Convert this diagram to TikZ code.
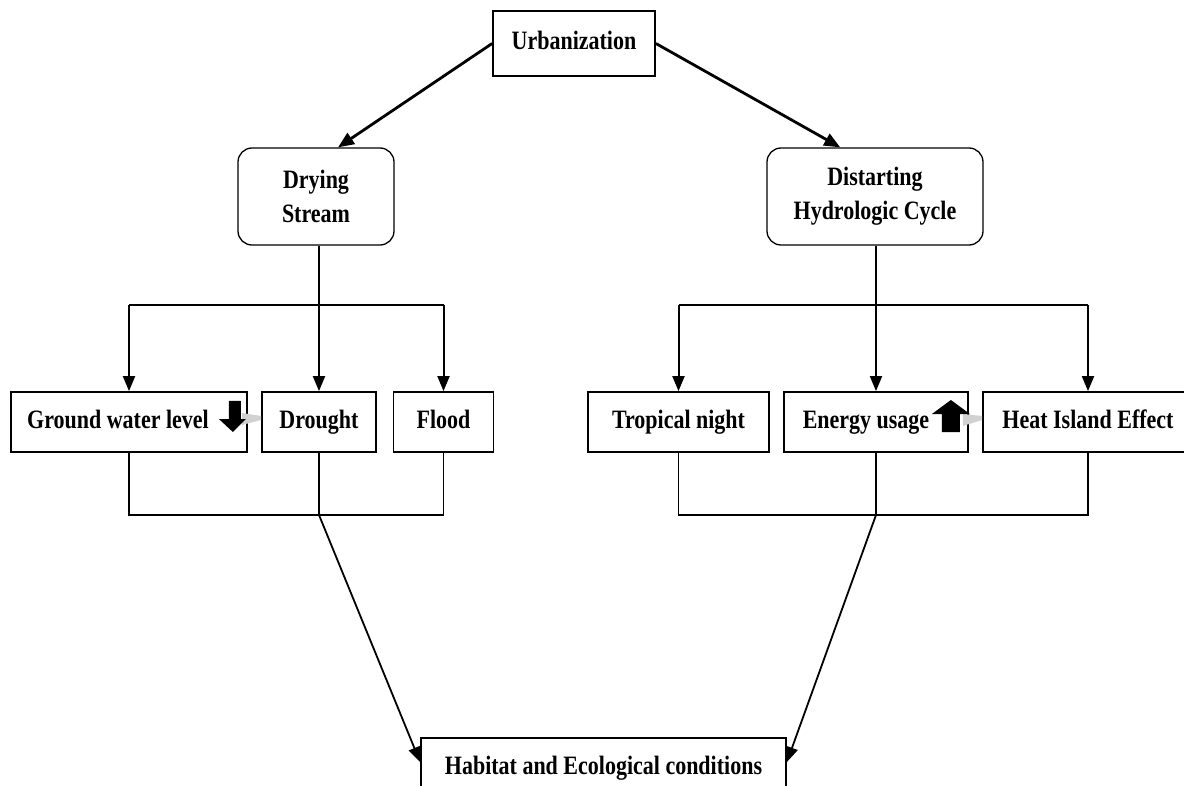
\documentclass[tikz,border=0pt]{standalone}
\usepackage{fontspec}
\setmainfont{Liberation Serif}[FakeStretch=0.83]
\usetikzlibrary{arrows.meta,calc}
\begin{document}
\begin{tikzpicture}[x=1pt,y=-1pt,
  every node/.style={font=\fontsize{26.5}{34}\selectfont\bfseries},
  box/.style={draw,line width=1.8pt,minimum height=60pt,inner sep=0pt,text height=19pt,text depth=6pt},
  rbox/.style={draw,line width=1.3pt,rounded corners=14pt,align=center,inner sep=0pt,minimum height=97pt},
  arr/.style={line width=2pt,-{Triangle[length=15pt,width=12pt]}},
  bigarr/.style={line width=2.8pt,-{Triangle[length=16pt,width=13pt]}},
  feed/.style={line width=1.8pt},
  thin/.style={line width=1.2pt},
  conv/.style={line width=1.8pt,-{Triangle[length=15pt,width=12pt]}},
  blk/.style={fill=black},
  shadow/.style={fill=black!18}
]
\useasboundingbox (0,0) rectangle (1184,786);
\fill[white] (0,0) rectangle (1184,786);

\node[box,minimum width=162pt,minimum height=65pt] (urb) at (574,43.5) {Urbanization};
\node[rbox,minimum width=156pt] (ds) at (316,196.5) {Drying\\Stream};
\node[rbox,minimum width=216pt] (dh) at (875,196.5) {Distarting\\Hydrologic Cycle};

\node[box,minimum width=236pt] (gw) at (129,422) {Ground water level\hspace*{22pt}};
\node[box,minimum width=114pt] (dr) at (319,422) {Drought};
\node[box,minimum width=100pt] (fl) at (443.5,422) {Flood};

\node[box,minimum width=181pt] (tn) at (678.5,422) {Tropical night};
\node[box,minimum width=184pt] (eu) at (876,422) {Energy usage\hspace*{20pt}};
\node[box,minimum width=210pt] (hi) at (1088,422) {Heat Island Effect};

\node[box,minimum width=365pt,minimum height=70pt,anchor=north] (hab) at (603.5,737) {\raisebox{5pt}{Habitat and Ecological conditions}};

% urbanization arrows
\draw[bigarr] (urb.west) -- ($(ds.north west)!0.64!(ds.north east)$);
\draw[bigarr] (urb.east) -- ($(dh.north west)!0.34!(dh.north east)$);

% left branch
\coordinate (lj) at (dr.north |- 0,305);
\draw[arr] (dr.north |- ds.south) -- (dr.north);
\draw[feed] (gw.north |- lj) -- (fl.north |- lj);
\draw[arr] (gw.north |- lj) -- (gw.north);
\draw[arr] (fl.north |- lj) -- (fl.north);

% right branch
\coordinate (rj) at (eu.north |- 0,305);
\draw[arr] (eu.north |- dh.south) -- (eu.north);
\draw[feed] (tn.north |- rj) -- (hi.north |- rj);
\draw[arr] (tn.north |- rj) -- (tn.north);
\draw[arr] (hi.north |- rj) -- (hi.north);

% bottom collectors
\coordinate (lb) at (dr.south |- 0,515);
\draw[thin] (gw.south) -- (gw.south |- lb) -- (fl.south |- lb) -- (fl.south);
\draw[thin] (dr.south) -- (lb);
\coordinate (rb) at (eu.south |- 0,515);
\draw[thin] (tn.south) -- (tn.south |- rb) -- (hi.south |- rb) -- (hi.south);
\draw[thin] (eu.south) -- (rb);

\draw[conv] (lb) -- ($(hab.north west)+(0,25)$);
\draw[conv] (rb) -- ($(hab.north east)+(0,25)$);

% block arrows inside boxes
\fill[shadow] ($(gw.east)+(-6,-9)$) -- ($(dr.west)+(0,-6)$) -- ($(dr.west)+(0,-2)$) -- ($(gw.east)+(-6,3)$) -- cycle;
\fill[blk] ($(gw.east)+(-19,-21)$) -- ($(gw.east)+(-7,-21)$) -- ($(gw.east)+(-7,-3)$) -- ($(gw.east)+(-2,-3)$)
  -- ($(gw.east)+(-15,10)$) -- ($(gw.east)+(-29,-3)$) -- ($(gw.east)+(-19,-3)$) -- cycle;

\fill[shadow] ($(eu.east)+(-6,-8)$) -- ($(hi.west)+(0,-6)$) -- ($(hi.west)+(0,-2)$) -- ($(eu.east)+(-6,4)$) -- cycle;
\fill[blk] ($(eu.east)+(-27,10)$) -- ($(eu.east)+(-27,-8)$) -- ($(eu.east)+(-37,-8)$) -- ($(eu.east)+(-18,-22)$)
  -- ($(eu.east)+(1,-8)$) -- ($(eu.east)+(-9,-8)$) -- ($(eu.east)+(-9,10)$) -- cycle;
\end{tikzpicture}
\end{document}
